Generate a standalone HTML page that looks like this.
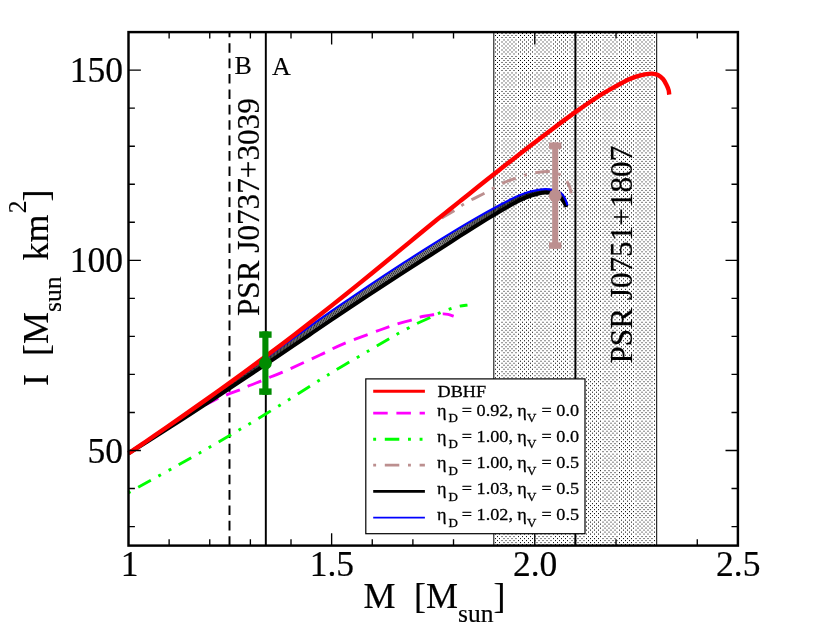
<!DOCTYPE html>
<html><head><meta charset="utf-8"><title>I vs M</title>
<style>html,body{margin:0;padding:0;background:#fff}svg{display:block;will-change:transform}text{font-family:"Liberation Serif",serif;fill:#000}</style>
</head><body>
<svg width="830" height="642" viewBox="0 0 830 642">
<rect width="830" height="642" fill="#fff"/>
<defs>
<mask id="mA" maskUnits="userSpaceOnUse" x="492.14" y="31.1" width="166.507" height="515.5"><path d="M495.5 31.1V546.6M499.5 31.1V546.6M504 31.1V546.6M508 31.1V546.6M512 31.1V546.6M516 31.1V546.6M520.5 31.1V546.6M524.5 31.1V546.6M528.5 31.1V546.6M532.5 31.1V546.6M537 31.1V546.6M541 31.1V546.6M545 31.1V546.6M549 31.1V546.6M553.5 31.1V546.6M557.5 31.1V546.6M561.5 31.1V546.6M565.5 31.1V546.6M570 31.1V546.6M574 31.1V546.6M578 31.1V546.6M582 31.1V546.6M586.5 31.1V546.6M590.5 31.1V546.6M594.5 31.1V546.6M598.5 31.1V546.6M603 31.1V546.6M607 31.1V546.6M611 31.1V546.6M615 31.1V546.6M619.5 31.1V546.6M623.5 31.1V546.6M627.5 31.1V546.6M631.5 31.1V546.6M636 31.1V546.6M640 31.1V546.6M644 31.1V546.6M648 31.1V546.6M652 31.1V546.6M656.5 31.1V546.6" stroke="#fff" stroke-width="1" fill="none"/></mask>
<mask id="mB" maskUnits="userSpaceOnUse" x="492.14" y="31.1" width="166.507" height="515.5"><path d="M497.5 31.1V546.6M502 31.1V546.6M506 31.1V546.6M510 31.1V546.6M514 31.1V546.6M518.5 31.1V546.6M522.5 31.1V546.6M526.5 31.1V546.6M530.5 31.1V546.6M535 31.1V546.6M539 31.1V546.6M543 31.1V546.6M547 31.1V546.6M551 31.1V546.6M555.5 31.1V546.6M559.5 31.1V546.6M563.5 31.1V546.6M567.5 31.1V546.6M572 31.1V546.6M576 31.1V546.6M580 31.1V546.6M584 31.1V546.6M588.5 31.1V546.6M592.5 31.1V546.6M596.5 31.1V546.6M600.5 31.1V546.6M605 31.1V546.6M609 31.1V546.6M613 31.1V546.6M617 31.1V546.6M621.5 31.1V546.6M625.5 31.1V546.6M629.5 31.1V546.6M633.5 31.1V546.6M638 31.1V546.6M642 31.1V546.6M646 31.1V546.6M650 31.1V546.6M654.5 31.1V546.6" stroke="#fff" stroke-width="1" fill="none"/></mask>
</defs>
<g mask="url(#mA)"><path d="M494.14 35.497H656.647M494.14 39.993H656.647M494.14 43.99H656.647M494.14 47.987H656.647M494.14 51.984H656.647M494.14 56.48H656.647M494.14 60.477H656.647M494.14 64.474H656.647M494.14 68.471H656.647M494.14 72.968H656.647M494.14 76.965H656.647M494.14 80.961H656.647M494.14 84.958H656.647M494.14 89.455H656.647M494.14 93.452H656.647M494.14 97.449H656.647M494.14 101.445H656.647M494.14 105.942H656.647M494.14 109.939H656.647M494.14 113.936H656.647M494.14 117.933H656.647M494.14 122.429H656.647M494.14 126.426H656.647M494.14 130.423H656.647M494.14 134.42H656.647M494.14 138.916H656.647M494.14 142.913H656.647M494.14 146.91H656.647M494.14 150.907H656.647M494.14 155.403H656.647M494.14 159.4H656.647M494.14 163.397H656.647M494.14 167.394H656.647M494.14 171.89H656.647M494.14 175.887H656.647M494.14 179.884H656.647M494.14 183.881H656.647M494.14 188.378H656.647M494.14 192.374H656.647M494.14 196.371H656.647M494.14 200.368H656.647M494.14 204.865H656.647M494.14 208.862H656.647M494.14 212.858H656.647M494.14 216.855H656.647M494.14 221.352H656.647M494.14 225.349H656.647M494.14 229.346H656.647M494.14 233.342H656.647M494.14 237.339H656.647M494.14 241.836H656.647M494.14 245.833H656.647M494.14 249.83H656.647M494.14 253.826H656.647M494.14 258.323H656.647M494.14 262.32H656.647M494.14 266.317H656.647M494.14 270.314H656.647M494.14 274.81H656.647M494.14 278.807H656.647M494.14 282.804H656.647M494.14 286.801H656.647M494.14 291.297H656.647M494.14 295.294H656.647M494.14 299.291H656.647M494.14 303.288H656.647M494.14 307.784H656.647M494.14 311.781H656.647M494.14 315.778H656.647M494.14 319.775H656.647M494.14 324.271H656.647M494.14 328.268H656.647M494.14 332.265H656.647M494.14 336.262H656.647M494.14 340.759H656.647M494.14 344.755H656.647M494.14 348.752H656.647M494.14 352.749H656.647M494.14 357.246H656.647M494.14 361.243H656.647M494.14 365.239H656.647M494.14 369.236H656.647M494.14 373.733H656.647M494.14 377.73H656.647M494.14 381.727H656.647M494.14 385.723H656.647M494.14 390.22H656.647M494.14 394.217H656.647M494.14 398.214H656.647M494.14 402.211H656.647M494.14 406.707H656.647M494.14 410.704H656.647M494.14 414.701H656.647M494.14 418.698H656.647M494.14 423.194H656.647M494.14 427.191H656.647M494.14 431.188H656.647M494.14 435.185H656.647M494.14 439.681H656.647M494.14 443.678H656.647M494.14 447.675H656.647M494.14 451.672H656.647M494.14 456.168H656.647M494.14 460.165H656.647M494.14 464.162H656.647M494.14 468.159H656.647M494.14 472.656H656.647M494.14 476.653H656.647M494.14 480.649H656.647M494.14 484.646H656.647M494.14 489.143H656.647M494.14 493.14H656.647M494.14 497.137H656.647M494.14 501.133H656.647M494.14 505.63H656.647M494.14 509.627H656.647M494.14 513.624H656.647M494.14 517.621H656.647M494.14 522.117H656.647M494.14 526.114H656.647M494.14 530.111H656.647M494.14 534.108H656.647M494.14 538.604H656.647M494.14 542.601H656.647" stroke="#000" stroke-width="1" fill="none"/></g>
<g mask="url(#mB)"><path d="M494.14 33.498H656.647M494.14 37.495H656.647M494.14 41.992H656.647M494.14 45.989H656.647M494.14 49.986H656.647M494.14 53.982H656.647M494.14 58.479H656.647M494.14 62.476H656.647M494.14 66.473H656.647M494.14 70.47H656.647M494.14 74.966H656.647M494.14 78.963H656.647M494.14 82.96H656.647M494.14 86.957H656.647M494.14 91.453H656.647M494.14 95.45H656.647M494.14 99.447H656.647M494.14 103.444H656.647M494.14 107.94H656.647M494.14 111.937H656.647M494.14 115.934H656.647M494.14 119.931H656.647M494.14 124.427H656.647M494.14 128.424H656.647M494.14 132.421H656.647M494.14 136.418H656.647M494.14 140.915H656.647M494.14 144.911H656.647M494.14 148.908H656.647M494.14 152.905H656.647M494.14 157.402H656.647M494.14 161.399H656.647M494.14 165.395H656.647M494.14 169.392H656.647M494.14 173.889H656.647M494.14 177.886H656.647M494.14 181.883H656.647M494.14 185.879H656.647M494.14 190.376H656.647M494.14 194.373H656.647M494.14 198.37H656.647M494.14 202.367H656.647M494.14 206.863H656.647M494.14 210.86H656.647M494.14 214.857H656.647M494.14 218.854H656.647M494.14 223.35H656.647M494.14 227.347H656.647M494.14 231.344H656.647M494.14 235.341H656.647M494.14 239.837H656.647M494.14 243.834H656.647M494.14 247.831H656.647M494.14 251.828H656.647M494.14 256.325H656.647M494.14 260.321H656.647M494.14 264.318H656.647M494.14 268.315H656.647M494.14 272.812H656.647M494.14 276.809H656.647M494.14 280.805H656.647M494.14 284.802H656.647M494.14 289.299H656.647M494.14 293.296H656.647M494.14 297.293H656.647M494.14 301.289H656.647M494.14 305.786H656.647M494.14 309.783H656.647M494.14 313.78H656.647M494.14 317.777H656.647M494.14 322.273H656.647M494.14 326.27H656.647M494.14 330.267H656.647M494.14 334.264H656.647M494.14 338.76H656.647M494.14 342.757H656.647M494.14 346.754H656.647M494.14 350.751H656.647M494.14 355.247H656.647M494.14 359.244H656.647M494.14 363.241H656.647M494.14 367.238H656.647M494.14 371.734H656.647M494.14 375.731H656.647M494.14 379.728H656.647M494.14 383.725H656.647M494.14 388.222H656.647M494.14 392.218H656.647M494.14 396.215H656.647M494.14 400.212H656.647M494.14 404.709H656.647M494.14 408.706H656.647M494.14 412.702H656.647M494.14 416.699H656.647M494.14 421.196H656.647M494.14 425.193H656.647M494.14 429.19H656.647M494.14 433.186H656.647M494.14 437.683H656.647M494.14 441.68H656.647M494.14 445.677H656.647M494.14 449.674H656.647M494.14 454.17H656.647M494.14 458.167H656.647M494.14 462.164H656.647M494.14 466.161H656.647M494.14 470.657H656.647M494.14 474.654H656.647M494.14 478.651H656.647M494.14 482.648H656.647M494.14 487.144H656.647M494.14 491.141H656.647M494.14 495.138H656.647M494.14 499.135H656.647M494.14 503.631H656.647M494.14 507.628H656.647M494.14 511.625H656.647M494.14 515.622H656.647M494.14 520.119H656.647M494.14 524.115H656.647M494.14 528.112H656.647M494.14 532.109H656.647M494.14 536.606H656.647M494.14 540.603H656.647M494.14 544.599H656.647" stroke="#000" stroke-width="1" fill="none"/></g>
<path d="M493.79 32.1V545.6M656.647 32.1V545.6" stroke="#222" stroke-width="1.15" fill="none"/>
<path d="M575.393 32.1V545.6" stroke="#000" stroke-width="1.95" fill="none"/>
<path d="M265.818 32.1V545.6" stroke="#000" stroke-width="1.95" fill="none"/>
<path d="M229.5 545.9V32.1" stroke="#000" stroke-width="1.95" stroke-dasharray="9.63 5.78" fill="none"/>
<g fill="none" stroke-linejoin="round">
<path d="M128.4 453C137 447.333 165.733 427.767 180 419C194.267 410.233 206.133 404.467 214 400.4C221.867 396.333 222.833 396.367 227.2 394.6C231.567 392.833 236.667 391.233 240.2 389.8C243.733 388.367 244.867 387.483 248.4 386C251.933 384.517 257.867 382.35 261.4 380.9C264.933 379.45 266.067 378.75 269.6 377.3C273.133 375.85 274.2 375.917 282.6 372.2C291 368.483 309.767 359.767 320 355C330.233 350.233 334 347.767 344 343.6C354 339.433 371.117 333.283 380 330C388.883 326.717 392.2 325.517 397.3 323.9C402.4 322.283 406.933 321.4 410.6 320.3C414.267 319.2 415.533 318.217 419.3 317.3C423.067 316.383 429.333 315.367 433.2 314.8C437.067 314.233 440.033 313.983 442.5 313.9C444.967 313.817 446.133 313.917 448 314.3C449.867 314.683 452.75 315.883 453.7 316.2" stroke="#ff00ff" stroke-width="2.9" stroke-dashoffset="2" stroke-dasharray="14.5 8.7"/>
<path d="M128.4 492.8C137 488 163.133 473.533 180 464C196.867 454.467 212.933 445.4 229.6 435.6C246.267 425.8 263.267 415.533 280 405.2C296.733 394.867 313.667 383.583 330 373.6C346.333 363.617 366.783 351.883 378 345.3C389.217 338.717 390.817 337.717 397.3 334.1C403.783 330.483 411.467 326.317 416.9 323.6C422.333 320.883 426.283 319.5 429.9 317.8C433.517 316.1 435.35 314.85 438.6 313.4C441.85 311.95 445.967 310.3 449.4 309.1C452.833 307.9 456.183 306.867 459.2 306.2C462.217 305.533 466.117 305.283 467.5 305.1" stroke="#00ff00" stroke-width="2.9" stroke-dashoffset="0.3" stroke-dasharray="2.888 8.664 14.44 8.664 2.888 8.664"/>
<path d="M128.6 453.38C131.949 451.082 141.996 444.196 148.693 439.591C155.391 434.985 162.089 430.383 168.787 425.749C175.484 421.115 182.182 416.47 188.88 411.787C195.578 407.103 202.276 402.397 208.973 397.646C215.671 392.896 222.369 388.113 229.067 383.282C235.764 378.451 242.462 373.581 249.16 368.659C255.858 363.738 262.556 358.772 269.253 353.754C275.951 348.737 282.649 343.67 289.347 338.555C296.044 333.439 302.742 328.273 309.44 323.06C316.138 317.848 322.836 312.585 329.533 307.281C336.231 301.978 342.929 296.625 349.627 291.239C356.324 285.853 363.022 280.422 369.72 274.967C376.418 269.513 383.116 264.017 389.813 258.51C396.511 253.003 403.209 247.463 409.907 241.923C416.604 236.384 422.634 230.461 430 225.274C437.366 220.087 448.683 214.196 454.1 210.8C459.517 207.404 459.617 206.733 462.5 204.9C465.383 203.067 467.817 201.7 471.4 199.8C474.983 197.9 480.433 195.383 484 193.5C487.567 191.617 489.733 190.183 492.8 188.5C495.867 186.817 498.633 185.1 502.4 183.4C506.167 181.7 511.65 179.667 515.4 178.3C519.15 176.933 521.683 176.117 524.9 175.2C528.117 174.283 531.683 173.383 534.7 172.8C537.717 172.217 540.667 171.917 543 171.7C545.333 171.483 546.867 171.417 548.7 171.5C550.533 171.583 552.317 171.783 554 172.2C555.683 172.617 557.3 173.2 558.8 174C560.3 174.8 561.717 175.883 563 177C564.283 178.117 565.417 179.117 566.5 180.7C567.583 182.283 568.7 184.4 569.5 186.5C570.3 188.6 571 192.167 571.3 193.3" stroke="#bc8f8f" stroke-width="2.9" stroke-dashoffset="2.3" stroke-dasharray="2.9 8.7 14.5 8.7"/>
<path d="M128.6 453.503C131.667 451.558 140.867 445.744 147 441.832C153.133 437.921 159.267 433.988 165.4 430.033C171.533 426.079 177.667 422.102 183.8 418.105C189.933 414.107 196.067 410.088 202.2 406.05C208.333 402.011 214.467 397.951 220.6 393.874C226.733 389.797 232.867 385.7 239 381.589C245.133 377.477 251.267 373.347 257.4 369.207C263.533 365.066 269.667 360.909 275.8 356.746C281.933 352.582 288.067 348.405 294.2 344.226C300.333 340.048 306.467 335.858 312.6 331.674C318.733 327.489 324.867 323.292 331 319.118C337.133 314.945 343.267 310.744 349.4 306.633C355.533 302.522 361.667 298.498 367.8 294.454C373.933 290.41 380.067 286.375 386.2 282.367C392.333 278.36 398.467 274.37 404.6 270.41C410.733 266.449 416.867 262.506 423 258.604C429.133 254.701 435.267 250.908 441.4 246.994C447.533 243.079 453.667 239.019 459.8 235.117C465.933 231.214 472.067 227.335 478.2 223.579C484.333 219.822 490.467 216.161 496.6 212.577C502.733 208.994 509.933 204.742 515 202.079C520.067 199.416 523.067 198.073 527 196.6C530.933 195.127 535.55 193.979 538.6 193.243C541.65 192.507 543.067 192.321 545.3 192.186C547.533 192.05 550.15 192.055 552 192.429C553.85 192.802 554.94 193.602 556.4 194.429C557.86 195.255 559.495 196.207 560.757 197.386C562.019 198.564 562.976 199.938 563.971 201.5C564.967 203.062 566.269 205.881 566.729 206.757" stroke="#000" stroke-width="0.85"/>
<path d="M128.6 453.497C131.667 451.537 140.867 445.683 147 441.738C153.133 437.794 159.267 433.823 165.4 429.829C171.533 425.836 177.667 421.816 183.8 417.776C189.933 413.735 196.067 409.669 202.2 405.585C208.333 401.501 214.467 397.394 220.6 393.271C226.733 389.147 232.867 385.003 239 380.846C245.133 376.689 251.267 372.514 257.4 368.33C263.533 364.146 269.667 359.947 275.8 355.744C281.933 351.541 288.067 347.326 294.2 343.112C300.333 338.899 306.467 334.676 312.6 330.463C318.733 326.249 324.867 322.019 331 317.831C337.133 313.643 343.267 309.451 349.4 305.334C355.533 301.216 361.667 297.178 367.8 293.124C373.933 289.071 380.067 285.026 386.2 281.012C392.333 276.999 398.467 273.008 404.6 269.043C410.733 265.078 416.867 261.126 423 257.224C429.133 253.323 435.267 249.525 441.4 245.634C447.533 241.743 453.667 237.738 459.8 233.877C465.933 230.016 472.067 226.18 478.2 222.468C484.333 218.757 490.467 215.138 496.6 211.607C502.733 208.075 509.933 203.895 515 201.277C520.067 198.66 523.067 197.332 527 195.9C530.933 194.468 535.55 193.39 538.6 192.686C541.65 191.981 543.067 191.793 545.3 191.671C547.533 191.55 550.133 191.593 552 191.957C553.867 192.321 555.014 193.055 556.5 193.857C557.986 194.66 559.64 195.581 560.914 196.771C562.188 197.962 563.152 199.376 564.143 201C565.133 202.624 566.405 205.595 566.857 206.514" stroke="#000" stroke-width="0.85"/>
<path d="M128.6 453.491C131.667 451.516 140.867 445.621 147 441.644C153.133 437.666 159.267 433.658 165.4 429.625C171.533 425.592 177.667 421.53 183.8 417.446C189.933 413.362 196.067 409.251 202.2 405.121C208.333 400.991 214.467 396.837 220.6 392.667C226.733 388.497 232.867 384.306 239 380.104C245.133 375.901 251.267 371.68 257.4 367.454C263.533 363.227 269.667 358.985 275.8 354.742C281.933 350.5 288.067 346.247 294.2 341.998C300.333 337.75 306.467 333.494 312.6 329.252C318.733 325.009 324.867 320.747 331 316.544C337.133 312.341 343.267 308.159 349.4 304.035C355.533 299.91 361.667 295.858 367.8 291.795C373.933 287.732 380.067 283.677 386.2 279.657C392.333 275.637 398.467 271.645 404.6 267.676C410.733 263.707 416.867 259.745 423 255.844C429.133 251.944 435.267 248.142 441.4 244.274C447.533 240.406 453.667 236.456 459.8 232.637C465.933 228.817 472.067 225.025 478.2 221.358C484.333 217.692 490.467 214.116 496.6 210.636C502.733 207.155 509.933 203.049 515 200.476C520.067 197.903 523.067 196.591 527 195.2C530.933 193.809 535.55 192.802 538.6 192.129C541.65 191.455 543.067 191.264 545.3 191.157C547.533 191.05 550.117 191.131 552 191.486C553.883 191.84 555.088 192.507 556.6 193.286C558.112 194.064 559.786 194.955 561.071 196.157C562.357 197.36 563.329 198.814 564.314 200.5C565.3 202.186 566.54 205.31 566.986 206.271" stroke="#000" stroke-width="0.85"/>
<path d="M128.6 453.484C131.667 451.495 140.867 445.56 147 441.55C153.133 437.539 159.267 433.493 165.4 429.421C171.533 425.349 177.667 421.244 183.8 417.117C189.933 412.99 196.067 408.833 202.2 404.657C208.333 400.481 214.467 396.279 220.6 392.063C226.733 387.847 232.867 383.609 239 379.361C245.133 375.113 251.267 370.847 257.4 366.577C263.533 362.307 269.667 358.023 275.8 353.741C281.933 349.459 288.067 345.167 294.2 340.884C300.333 336.601 306.467 332.312 312.6 328.041C318.733 323.769 324.867 319.474 331 315.257C337.133 311.039 343.267 306.867 349.4 302.736C355.533 298.604 361.667 294.538 367.8 290.465C373.933 286.393 380.067 282.328 386.2 278.302C392.333 274.276 398.467 270.282 404.6 266.309C410.733 262.336 416.867 258.364 423 254.465C429.133 250.566 435.267 246.759 441.4 242.914C447.533 239.069 453.667 235.174 459.8 231.397C465.933 227.619 472.067 223.87 478.2 220.248C484.333 216.626 490.467 213.094 496.6 209.665C502.733 206.236 509.933 202.202 515 199.674C520.067 197.147 523.067 195.851 527 194.5C530.933 193.149 535.55 192.214 538.6 191.571C541.65 190.929 543.067 190.736 545.3 190.643C547.533 190.55 550.1 190.669 552 191.014C553.9 191.36 555.162 191.96 556.7 192.714C558.238 193.469 559.931 194.329 561.229 195.543C562.526 196.757 563.505 198.252 564.486 200C565.467 201.748 566.676 205.024 567.114 206.029" stroke="#000" stroke-width="0.85"/>
<path d="M128.6 453.478C131.667 451.474 140.867 445.499 147 441.455C153.133 437.412 159.267 433.329 165.4 429.217C171.533 425.106 177.667 420.959 183.8 416.788C189.933 412.617 196.067 408.414 202.2 404.193C208.333 399.971 214.467 395.722 220.6 391.46C226.733 387.197 232.867 382.912 239 378.618C245.133 374.325 251.267 370.014 257.4 365.7C263.533 361.387 269.667 357.061 275.8 352.739C281.933 348.417 288.067 344.088 294.2 339.77C300.333 335.452 306.467 331.13 312.6 326.83C318.733 322.53 324.867 318.202 331 313.97C337.133 309.738 343.267 305.575 349.4 301.436C355.533 297.297 361.667 293.217 367.8 289.136C373.933 285.054 380.067 280.979 386.2 276.947C392.333 272.915 398.467 268.919 404.6 264.942C410.733 260.965 416.867 256.983 423 253.085C429.133 249.187 435.267 245.375 441.4 241.554C447.533 237.733 453.667 233.893 459.8 230.157C465.933 226.421 472.067 222.715 478.2 219.138C484.333 215.561 490.467 212.072 496.6 208.694C502.733 205.317 509.933 201.355 515 198.873C520.067 196.391 523.067 195.11 527 193.8C530.933 192.49 535.55 191.626 538.6 191.014C541.65 190.402 543.067 190.207 545.3 190.129C547.533 190.05 550.083 190.207 552 190.543C553.917 190.879 555.236 191.412 556.8 192.143C558.364 192.874 560.076 193.702 561.386 194.929C562.695 196.155 563.681 197.69 564.657 199.5C565.633 201.31 566.812 204.738 567.243 205.786" stroke="#000" stroke-width="0.85"/>
<path d="M128.6 453.471C131.667 451.453 140.867 445.437 147 441.361C153.133 437.285 159.267 433.164 165.4 429.013C171.533 424.863 177.667 420.673 183.8 416.459C189.933 412.244 196.067 407.996 202.2 403.728C208.333 399.461 214.467 395.165 220.6 390.856C226.733 386.547 232.867 382.214 239 377.876C245.133 373.537 251.267 369.18 257.4 364.824C263.533 360.468 269.667 356.099 275.8 351.738C281.933 347.376 288.067 343.009 294.2 338.656C300.333 334.303 306.467 329.948 312.6 325.619C318.733 321.29 324.867 316.93 331 312.683C337.133 308.436 343.267 304.283 349.4 300.137C355.533 295.991 361.667 291.897 367.8 287.806C373.933 283.715 380.067 279.631 386.2 275.592C392.333 271.553 398.467 267.556 404.6 263.575C410.733 259.594 416.867 255.602 423 251.705C429.133 247.809 435.267 243.992 441.4 240.194C447.533 236.396 453.667 232.611 459.8 228.917C465.933 225.222 472.067 221.56 478.2 218.028C484.333 214.496 490.467 211.049 496.6 207.723C502.733 204.397 509.933 200.509 515 198.071C520.067 195.634 523.067 194.369 527 193.1C530.933 191.831 535.55 191.038 538.6 190.457C541.65 189.876 543.067 189.679 545.3 189.614C547.533 189.55 550.067 189.745 552 190.071C553.933 190.398 555.31 190.864 556.9 191.571C558.49 192.279 560.221 193.076 561.543 194.314C562.864 195.552 563.857 197.129 564.829 199C565.8 200.871 566.948 204.452 567.371 205.543" stroke="#000" stroke-width="0.85"/>
<path d="M128.6 453.51C131.667 451.579 140.867 445.806 147 441.927C153.133 438.048 159.267 434.153 165.4 430.237C171.533 426.322 177.667 422.388 183.8 418.434C189.933 414.48 196.067 410.506 202.2 406.514C208.333 402.521 214.467 398.508 220.6 394.478C226.733 390.447 232.867 386.397 239 382.331C245.133 378.266 251.267 374.181 257.4 370.083C263.533 365.986 269.667 361.871 275.8 357.747C281.933 353.623 288.067 349.484 294.2 345.34C300.333 341.197 306.467 337.04 312.6 332.885C318.733 328.729 324.867 324.564 331 320.405C337.133 316.246 343.267 312.036 349.4 307.932C355.533 303.828 361.667 299.818 367.8 295.783C373.933 291.749 380.067 287.724 386.2 283.723C392.333 279.721 398.467 275.733 404.6 271.777C410.733 267.82 416.867 263.887 423 259.983C429.133 256.08 435.267 252.291 441.4 248.354C447.533 244.416 453.667 240.301 459.8 236.357C465.933 232.413 472.067 228.49 478.2 224.689C484.333 220.887 490.467 217.183 496.6 213.548C502.733 209.914 509.933 205.589 515 202.88C520.067 200.172 523.067 198.813 527 197.3C530.933 195.787 535.55 194.567 538.6 193.8C541.65 193.033 543.067 192.85 545.3 192.7C547.533 192.55 550.167 192.517 552 192.9C553.833 193.283 554.867 194.15 556.3 195C557.733 195.85 559.35 196.833 560.6 198C561.85 199.167 562.8 200.5 563.8 202C564.8 203.5 566.133 206.167 566.6 207" stroke="#000" stroke-width="4.0" transform="translate(0 -0.2)"/>
<path d="M128.6 453.465C131.667 451.432 140.867 445.376 147 441.267C153.133 437.158 159.267 432.999 165.4 428.809C171.533 424.62 177.667 420.387 183.8 416.129C189.933 411.872 196.067 407.577 202.2 403.264C208.333 398.951 214.467 394.607 220.6 390.252C226.733 385.897 232.867 381.517 239 377.133C245.133 372.749 251.267 368.347 257.4 363.947C263.533 359.548 269.667 355.137 275.8 350.736C281.933 346.335 288.067 341.93 294.2 337.542C300.333 333.154 306.467 328.765 312.6 324.408C318.733 320.05 324.867 315.657 331 311.396C337.133 307.134 343.267 302.991 349.4 298.838C355.533 294.685 361.667 290.577 367.8 286.477C373.933 282.376 380.067 278.282 386.2 274.237C392.333 270.192 398.467 266.193 404.6 262.208C410.733 258.222 416.867 254.221 423 250.326C429.133 246.43 435.267 242.609 441.4 238.834C447.533 235.059 453.667 231.329 459.8 227.677C465.933 224.024 472.067 220.405 478.2 216.918C484.333 213.431 490.467 210.027 496.6 206.752C502.733 203.478 509.933 199.662 515 197.27C520.067 194.878 523.067 193.628 527 192.4C530.933 191.172 535.55 190.45 538.6 189.9C541.65 189.35 543.067 189.15 545.3 189.1C547.533 189.05 550.05 189.283 552 189.6C553.95 189.917 555.383 190.317 557 191C558.617 191.683 560.367 192.45 561.7 193.7C563.033 194.95 564.033 196.567 565 198.5C565.967 200.433 567.083 204.167 567.5 205.3" stroke="#0000ff" stroke-width="2.1"/>
<path d="M128.6 453.38C130.734 451.916 137.137 447.525 141.405 444.595C145.674 441.664 149.942 438.735 154.21 435.799C158.479 432.862 162.747 429.923 167.015 426.973C171.284 424.023 175.552 421.069 179.821 418.101C184.089 415.133 188.357 412.157 192.626 409.166C196.894 406.175 201.162 403.173 205.431 400.155C209.699 397.136 213.968 394.105 218.236 391.055C222.504 388.006 226.773 384.941 231.041 381.857C235.309 378.774 239.578 375.673 243.846 372.553C248.115 369.433 252.383 366.295 256.651 363.136C260.92 359.978 265.188 356.8 269.456 353.602C273.725 350.404 277.993 347.186 282.262 343.948C286.53 340.71 290.798 337.452 295.067 334.174C299.335 330.896 303.603 327.597 307.872 324.28C312.14 320.963 316.409 317.625 320.677 314.27C324.945 310.915 329.214 307.54 333.482 304.148C337.75 300.757 342.019 297.347 346.287 293.922C350.556 290.497 354.824 287.055 359.092 283.6C363.361 280.145 367.629 276.674 371.897 273.192C376.166 269.71 380.434 266.214 384.703 262.711C388.971 259.207 393.239 255.691 397.508 252.17C401.776 248.65 406.044 245.119 410.313 241.587C414.581 238.055 418.85 234.491 423.118 230.979C427.386 227.466 431.655 223.97 435.923 220.513C440.191 217.056 444.46 213.655 448.728 210.236C452.997 206.817 457.265 203.409 461.533 199.999C465.802 196.589 470.07 193.185 474.338 189.776C478.607 186.367 482.875 182.936 487.144 179.547C491.412 176.158 495.68 172.798 499.949 169.44C504.217 166.082 508.485 162.716 512.754 159.4C517.022 156.085 521.291 152.836 525.559 149.546C529.827 146.256 534.096 142.935 538.364 139.661C542.632 136.386 546.901 133.111 551.169 129.899C555.438 126.687 559.706 123.518 563.974 120.386C568.243 117.254 572.511 114.136 576.779 111.106C581.048 108.076 585.316 105.077 589.585 102.203C593.853 99.33 598.121 96.463 602.39 93.866C606.658 91.269 610.926 88.964 615.195 86.621C619.463 84.279 624.532 81.482 628 79.812C631.468 78.142 633.167 77.519 636 76.6C638.833 75.681 642.333 74.8 645 74.3C647.667 73.8 649.833 73.483 652 73.6C654.167 73.717 656.167 74.1 658 75C659.833 75.9 661.617 77.417 663 79C664.383 80.583 665.367 82.667 666.3 84.5C667.233 86.333 668.117 88.317 668.6 90C669.083 91.683 669.1 93.833 669.2 94.6" stroke="#ff0000" stroke-width="4.4"/>
</g>
<g fill="#008b00" stroke="none">
<rect x="262.35" y="331.4" width="6.1" height="63.4"/>
<rect x="259.2" y="331.4" width="12.4" height="6.4"/>
<rect x="259.2" y="388.4" width="12.4" height="6.4"/>
<circle cx="265.4" cy="363.2" r="6.4"/>
</g>
<g fill="#bc8f8f" stroke="none">
<rect x="552.15" y="142.5" width="6.1" height="106.2"/>
<rect x="549" y="142.5" width="12.4" height="6.4"/>
<rect x="549" y="242.3" width="12.4" height="6.4"/>
<circle cx="555.2" cy="195.7" r="6.4"/>
</g>
<rect x="128.5" y="32.1" width="609.4" height="513.5" fill="none" stroke="#000" stroke-width="2.45"/>
<path d="M169.127 545.6v-6.4M169.127 32.1v6.4M209.753 545.6v-6.4M209.753 32.1v6.4M250.38 545.6v-6.4M250.38 32.1v6.4M291.007 545.6v-6.4M291.007 32.1v6.4M331.633 545.6v-12.4M331.633 32.1v12.4M372.26 545.6v-6.4M372.26 32.1v6.4M412.887 545.6v-6.4M412.887 32.1v6.4M453.513 545.6v-6.4M453.513 32.1v6.4M534.767 545.6v-12.4M534.767 32.1v12.4M575.393 545.6v-6.4M575.393 32.1v6.4M616.02 545.6v-6.4M616.02 32.1v6.4M697.273 545.6v-6.4M697.273 32.1v6.4M128.5 526.581h6.4M737.9 526.581h-6.4M128.5 488.544h6.4M737.9 488.544h-6.4M128.5 450.507h12.4M737.9 450.507h-12.4M128.5 412.47h6.4M737.9 412.47h-6.4M128.5 374.433h6.4M737.9 374.433h-6.4M128.5 336.396h6.4M737.9 336.396h-6.4M128.5 298.359h6.4M737.9 298.359h-6.4M128.5 260.322h12.4M737.9 260.322h-12.4M128.5 222.285h6.4M737.9 222.285h-6.4M128.5 184.248h6.4M737.9 184.248h-6.4M128.5 146.211h6.4M737.9 146.211h-6.4M128.5 108.174h6.4M737.9 108.174h-6.4M128.5 70.137h12.4M737.9 70.137h-12.4" stroke="#000" stroke-width="1.35" fill="none"/>
<g opacity="0.999" stroke="#000" stroke-width="0.2">
<text x="129.7" y="576" font-size="35.5" text-anchor="middle">1</text>
<text x="331.933" y="576" font-size="35.5" text-anchor="middle">1.5</text>
<text x="535.067" y="576" font-size="35.5" text-anchor="middle">2.0</text>
<text x="738.2" y="576" font-size="35.5" text-anchor="middle">2.5</text>
<text x="123" y="462.507" font-size="35.5" text-anchor="end">50</text>
<text x="123" y="272.322" font-size="35.5" text-anchor="end">100</text>
<text x="123" y="82.137" font-size="35.5" text-anchor="end">150</text>
<text x="363.4" y="607.7" font-size="36">M</text>
<text x="414" y="607.7" font-size="36">[M<tspan font-size="25.5" dy="13.9">sun</tspan><tspan dy="-13.9">]</tspan></text>
<text transform="translate(48 386) rotate(-90)" font-size="36" xml:space="preserve">I  [M<tspan font-size="25.5" dy="13.4">sun</tspan><tspan dy="-13.4" dx="-2">  km</tspan><tspan font-size="25.5" dy="-21.7" dx="1.2">2</tspan><tspan dy="21.7" dx="-0.8">]</tspan></text>
<text x="234.5" y="73.8" font-size="26" stroke-width="0.15">B</text>
<text x="272" y="74.8" font-size="26" stroke-width="0.15">A</text>
<text transform="translate(259.2 316) rotate(-90)" font-size="31.2">PSR J0737+3039</text>
<text transform="translate(632.4 363.5) rotate(-90)" font-size="31.2">PSR J0751+1807</text>
</g>
<rect x="365.8" y="378.9" width="219.2" height="154.8" fill="#fff" stroke="#000" stroke-width="1.2"/>
<g fill="none">
<path d="M373.2 391.2H424.9" stroke="#f00" stroke-width="2.9"/>
<path d="M373.2 413.1H424.9" stroke="#f0f" stroke-width="2.9" stroke-dasharray="14.5 8.7"/>
<path d="M373.2 439.2H424.9" stroke="#0f0" stroke-width="2.9" stroke-dasharray="2.9 8.7 14.5 8.7 2.9 8.7"/>
<path d="M373.2 465.1H424.9" stroke="#bc8f8f" stroke-width="2.9" stroke-dasharray="2.9 8.7 14.5 8.7"/>
<path d="M373.2 491.4H424.9" stroke="#000" stroke-width="2.9"/>
<path d="M373.2 517.6H424.9" stroke="#00f" stroke-width="1.9"/>
</g>
<g opacity="0.999" stroke="#000" stroke-width="0.28" font-size="17.5" transform="translate(437 0) scale(1.04 1) translate(-437 0)">
<text x="437.577" y="396.9">DBHF</text>
<text y="415.9"><tspan x="437">η</tspan><tspan x="448.154" font-size="12.5" dy="6.5">D</tspan><tspan x="460.846" dy="-6.5">= 0.92,</tspan><tspan x="514.212">η</tspan><tspan x="523.538" font-size="12.5" dy="6.5">V</tspan><tspan x="537.481" dy="-6.5">= 0.0</tspan></text>
<text y="442"><tspan x="437">η</tspan><tspan x="448.154" font-size="12.5" dy="6.5">D</tspan><tspan x="460.846" dy="-6.5">= 1.00,</tspan><tspan x="514.212">η</tspan><tspan x="523.538" font-size="12.5" dy="6.5">V</tspan><tspan x="537.481" dy="-6.5">= 0.0</tspan></text>
<text y="468.1"><tspan x="437">η</tspan><tspan x="448.154" font-size="12.5" dy="6.5">D</tspan><tspan x="460.846" dy="-6.5">= 1.00,</tspan><tspan x="514.212">η</tspan><tspan x="523.538" font-size="12.5" dy="6.5">V</tspan><tspan x="537.481" dy="-6.5">= 0.5</tspan></text>
<text y="494.2"><tspan x="437">η</tspan><tspan x="448.154" font-size="12.5" dy="6.5">D</tspan><tspan x="460.846" dy="-6.5">= 1.03,</tspan><tspan x="514.212">η</tspan><tspan x="523.538" font-size="12.5" dy="6.5">V</tspan><tspan x="537.481" dy="-6.5">= 0.5</tspan></text>
<text y="520.3"><tspan x="437">η</tspan><tspan x="448.154" font-size="12.5" dy="6.5">D</tspan><tspan x="460.846" dy="-6.5">= 1.02,</tspan><tspan x="514.212">η</tspan><tspan x="523.538" font-size="12.5" dy="6.5">V</tspan><tspan x="537.481" dy="-6.5">= 0.5</tspan></text>
</g>
</svg></body></html>
